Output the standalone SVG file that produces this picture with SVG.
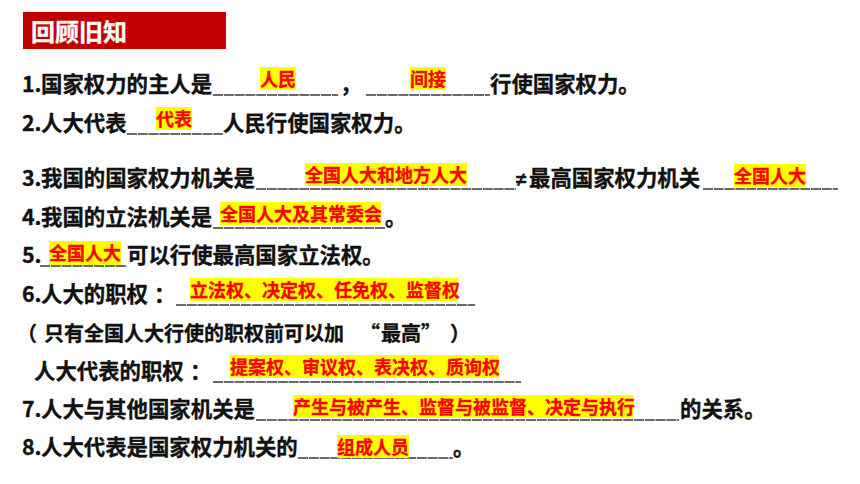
<svg xmlns="http://www.w3.org/2000/svg" width="860" height="484" viewBox="0 0 860 484">
<style>
.t{font-family:"Noto Sans CJK SC","Liberation Sans",sans-serif;font-weight:bold;font-size:21.4px;fill:#111;stroke:#111;stroke-width:0.35}
.p{font-size:20px}
.ne{font-family:"Liberation Sans",sans-serif;font-size:19px}
.h{font-family:"Noto Sans CJK SC","Liberation Sans",sans-serif;font-weight:bold;font-size:24px;fill:#fff;stroke:#fff;stroke-width:0.3}
.a{font-family:"Noto Sans CJK SC","Liberation Sans",sans-serif;font-weight:bold;font-size:18px;fill:#ff0000;stroke:#ff0000;stroke-width:0.3}
.hl{fill:#ffff00}
.u{stroke:#3a3a3a;stroke-width:1.4;stroke-dasharray:10 0.8;fill:none}
</style>
<rect width="860" height="484" fill="#fff"/>
<g id="title">
<rect x="23" y="12" width="203" height="37" fill="#c00000"/>
<text class="h" x="31" y="41">回顾旧知</text>
</g>
<g id="blanks">
<line class="u" x1="213" y1="95" x2="338" y2="95"/>
<line class="u" x1="366" y1="95" x2="490" y2="95"/>
<line class="u" x1="127" y1="134" x2="223" y2="134"/>
<line class="u" x1="256" y1="189" x2="516" y2="189"/>
<line class="u" x1="703" y1="189" x2="838" y2="189"/>
<line class="u" x1="213" y1="228" x2="385" y2="228"/>
<line class="u" x1="40" y1="266" x2="127" y2="266"/>
<line class="u" x1="176" y1="305" x2="475" y2="305"/>
<line class="u" x1="213" y1="382" x2="521" y2="382"/>
<line class="u" x1="256" y1="420" x2="679" y2="420"/>
<line class="u" x1="298" y1="458" x2="453" y2="458"/>
</g>
<g id="answers">
<rect class="hl" x="260" y="67" width="36" height="23"/><text class="a" x="260" y="86">人民</text>
<rect class="hl" x="410" y="67" width="36" height="23"/><text class="a" x="410" y="86">间接</text>
<rect class="hl" x="156" y="107" width="36" height="23"/><text class="a" x="156" y="126">代表</text>
<rect class="hl" x="305" y="163" width="162" height="23"/><text class="a" x="305" y="182">全国人大和地方人大</text>
<rect class="hl" x="734" y="164" width="72" height="23"/><text class="a" x="734" y="183">全国人大</text>
<rect class="hl" x="220" y="202" width="161" height="23"/><text class="a" x="220" y="221">全国人大及其常委会</text>
<rect class="hl" x="49" y="241" width="72" height="24"/><text class="a" x="49" y="260">全国人大</text>
<rect class="hl" x="190" y="278" width="268" height="23"/><text class="a" x="190" y="297">立法权、决定权、任免权、监督权</text>
<rect class="hl" x="230" y="355" width="269" height="23"/><text class="a" x="230" y="374">提案权、审议权、表决权、质询权</text>
<rect class="hl" x="293" y="395" width="340" height="23"/><text class="a" x="293" y="414">产生与被产生、监督与被监督、决定与执行</text>
<rect class="hl" x="337" y="435" width="72" height="23"/><text class="a" x="337" y="454">组成人员</text>
</g>
<g id="questions">
<text class="t" y="92"><tspan x="22">1.</tspan><tspan x="41">国家权力的主人是</tspan><tspan x="340">，</tspan><tspan x="490">行使国家权力。</tspan></text>
<text class="t" y="131"><tspan x="22">2.</tspan><tspan x="41">人大代表</tspan><tspan x="223">人民行使国家权力。</tspan></text>
<text class="t" y="186"><tspan x="22">3.</tspan><tspan x="41">我国的国家权力机关是</tspan><tspan class="ne" x="516">≠</tspan><tspan x="529">最高国家权力机关</tspan></text>
<text class="t" y="225"><tspan x="22">4.</tspan><tspan x="41">我国的立法机关是</tspan><tspan x="385">。</tspan></text>
<text class="t" y="263"><tspan x="22">5.</tspan><tspan x="127">可以行使最高国家立法权。</tspan></text>
<text class="t" y="302"><tspan x="22">6.</tspan><tspan x="41">人大的职权</tspan><tspan x="154">：</tspan></text>
<text class="t p" y="341"><tspan x="17">（</tspan><tspan x="44">只有全国人大行使的职权前可以加</tspan><tspan x="360">“</tspan><tspan x="381">最高</tspan><tspan x="421">”</tspan><tspan x="450">）</tspan></text>
<text class="t" y="379"><tspan x="34">人大代表的职权</tspan><tspan x="190">：</tspan></text>
<text class="t" y="417"><tspan x="22">7.</tspan><tspan x="41">人大与其他国家机关是</tspan><tspan x="680">的关系。</tspan></text>
<text class="t" y="455"><tspan x="22">8.</tspan><tspan x="41">人大代表是国家权力机关的</tspan><tspan x="453">。</tspan></text>
</g>
</svg>
